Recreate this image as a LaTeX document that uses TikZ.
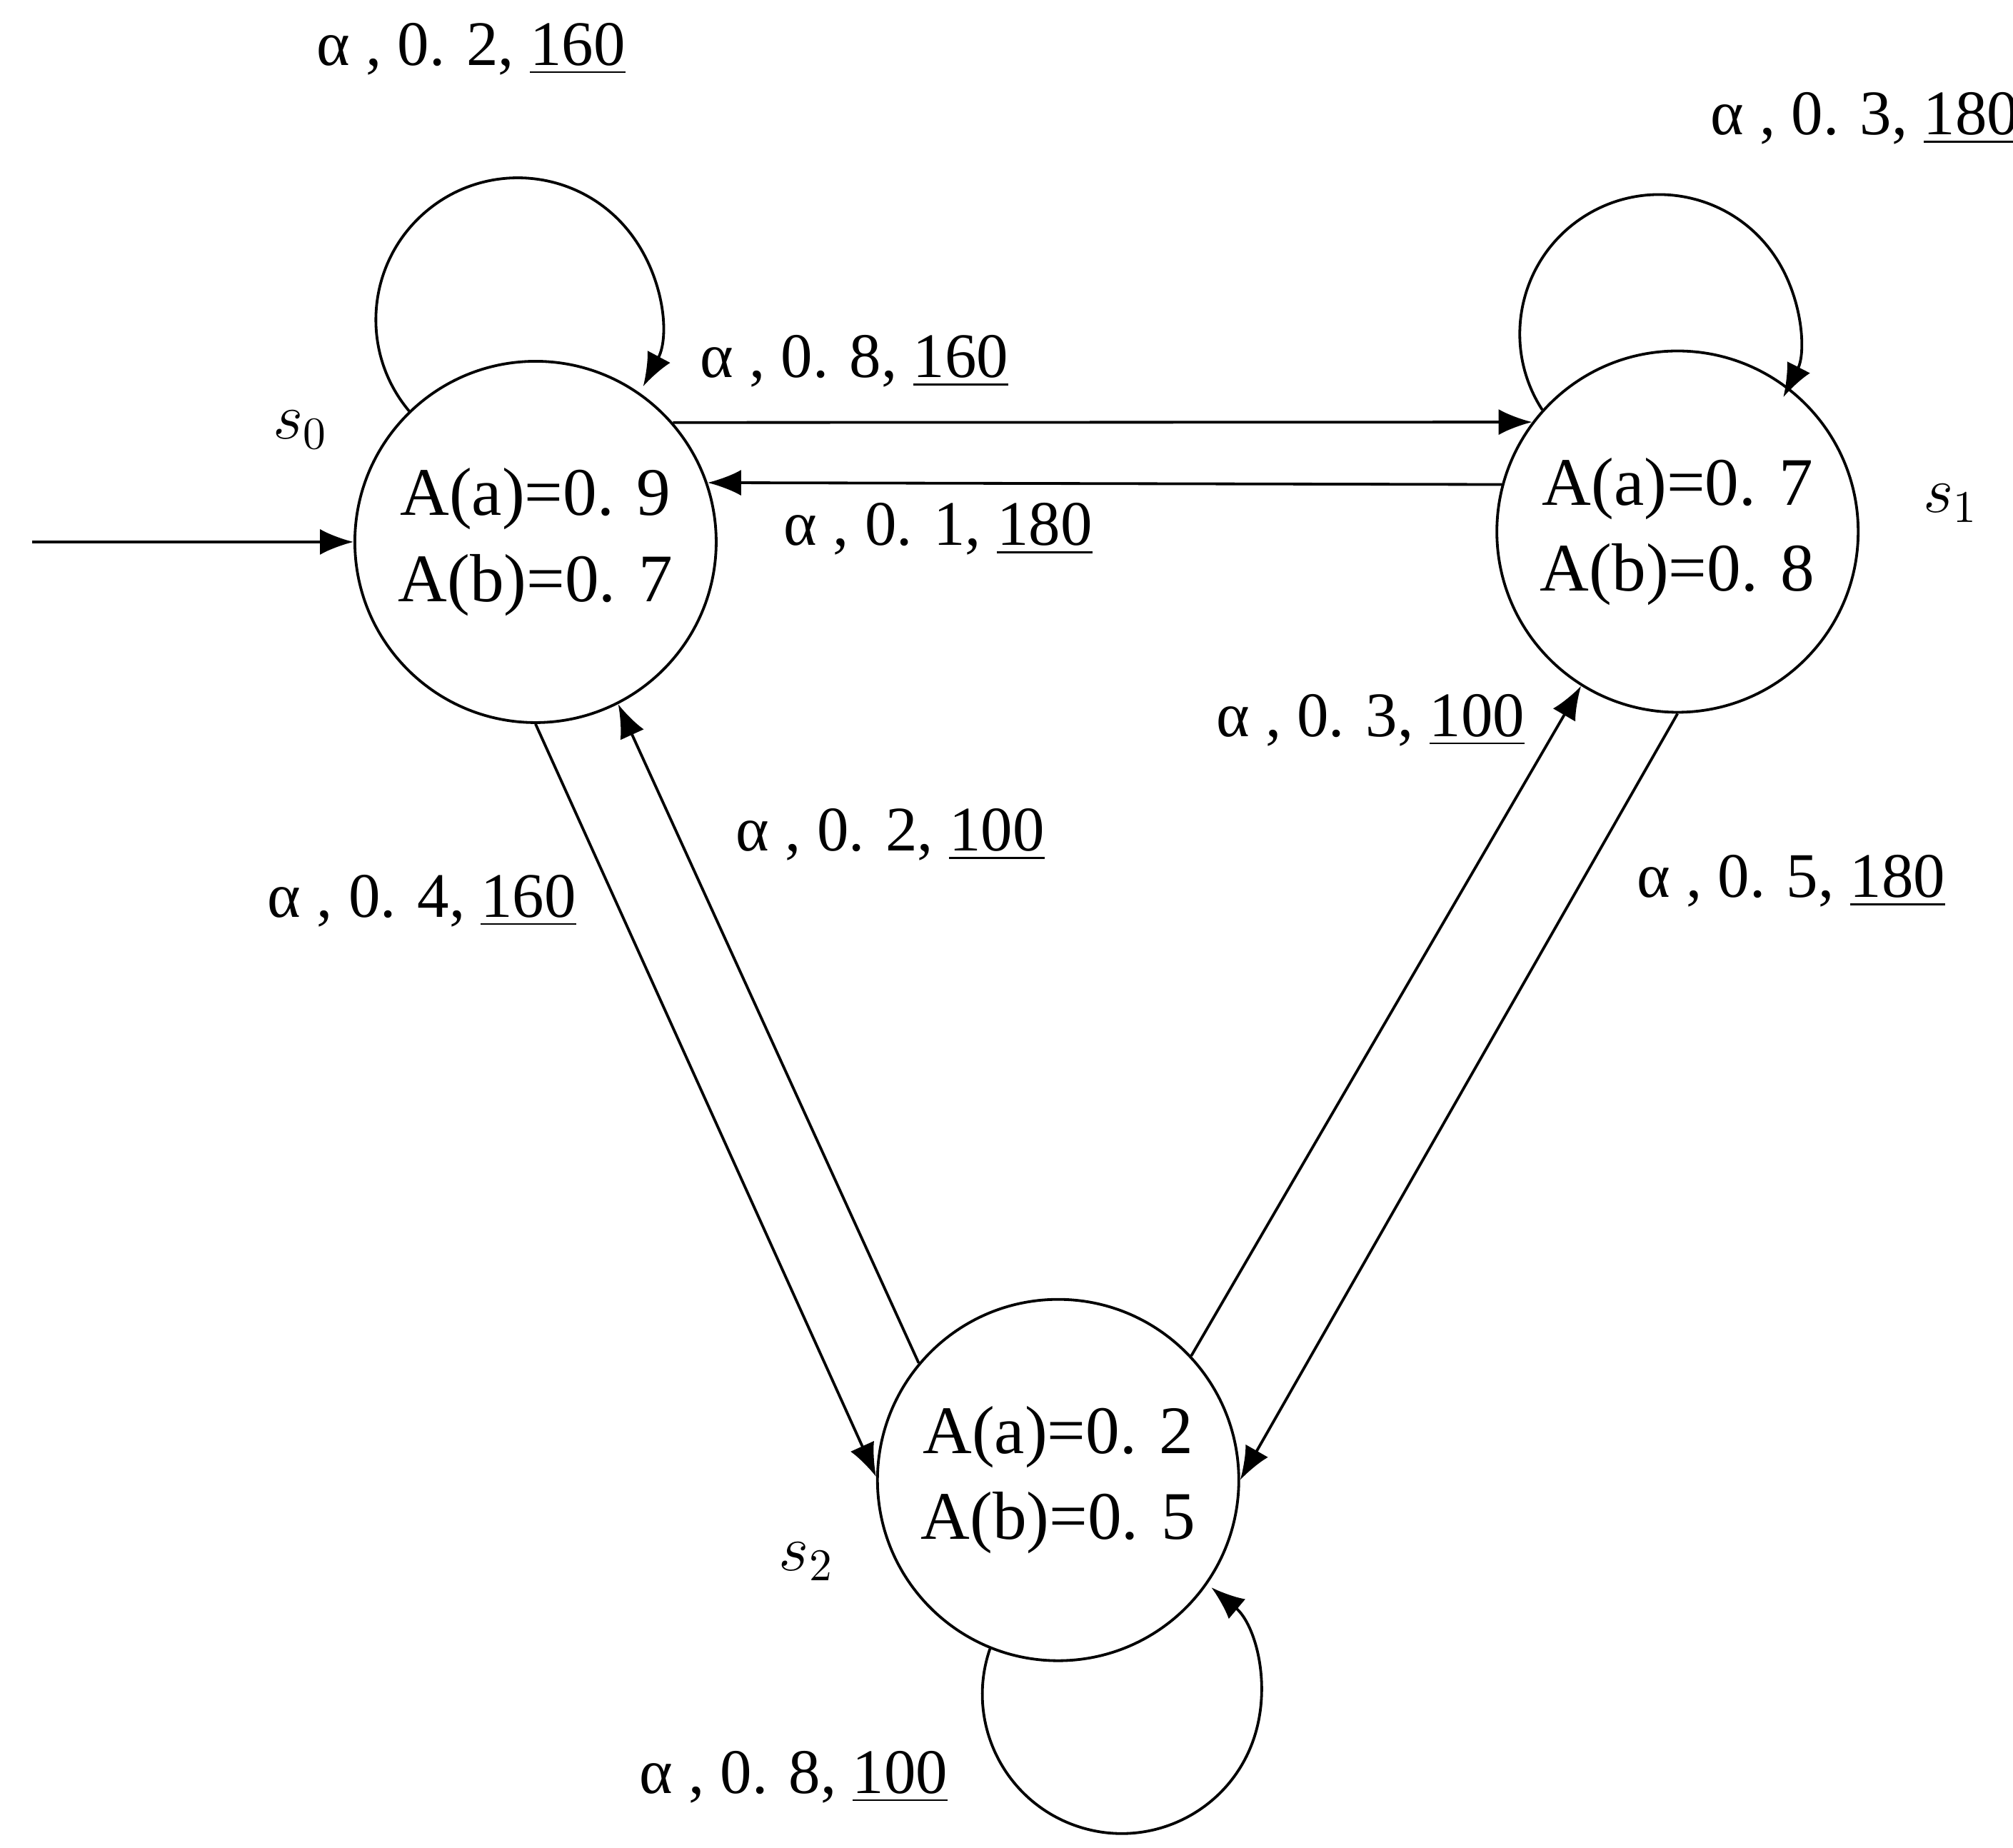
\documentclass[tikz,border=0pt]{standalone}
\usepackage{fontspec}
\setmainfont{Liberation Serif}
\usetikzlibrary{arrows.meta}
\begin{document}
\begin{tikzpicture}[
  st/.style={circle,draw,line width=0.6pt,minimum size=2.8cm,inner sep=0pt,align=center,font=\fontsize{15}{19}\selectfont},
  lb/.style={font=\fontsize{14}{17}\selectfont,inner sep=1pt},
  ed/.style={line width=0.6pt,-{Latex[length=2.6mm,width=2mm]}}]
\useasboundingbox (0,0) rectangle (15.6,14.32);
\node[st] (s0) at (4.15,10.12) {A(a)=0. 9\\A(b)=0. 7};
\node[st] (s1) at (13.00,10.20) {A(a)=0. 7\\A(b)=0. 8};
\node[st] (s2) at (8.20,2.85) {A(a)=0. 2\\A(b)=0. 5};
\coordinate (init) at (0.25,10.12);
\draw[ed] (init) -- (s0.west);
\draw[ed] (s0.41) -- (s1.143);
\draw[ed] (s1.165) -- (s0.19);
\draw[ed] (s0.270) -- (s2.179);
\draw[ed] (s2.140) -- (s0.297);
\draw[ed] (s2.43) -- (s1.238);
\draw[ed] (s1.270) -- (s2.0);
\draw[ed] (s0.134) arc[start angle=220,end angle=-28,radius=1.1];
\draw[ed] (s1.138) arc[start angle=213,end angle=-27,radius=1.08];
\draw[ed] (s2.248) arc[start angle=161,end angle=410,radius=1.08];
\node[lb] (l1) at (3.65,13.94) {α , 0. 2, \underline{160}};
\node[lb] (l2) at (14.45,13.40) {α , 0. 3, \underline{180}};
\node[lb] (l3) at (6.62,11.52) {α , 0. 8, \underline{160}};
\node[lb] (l4) at (7.27,10.22) {α , 0. 1, \underline{180}};
\node[lb] (l5) at (10.62,8.74) {α , 0. 3, \underline{100}};
\node[lb] (l6) at (6.90,7.85) {α , 0. 2, \underline{100}};
\node[lb] (l7) at (3.27,7.34) {α , 0. 4, \underline{160}};
\node[lb] (l8) at (13.88,7.49) {α , 0. 5, \underline{180}};
\node[lb] (l9) at (6.15,0.55) {α , 0. 8, \underline{100}};
\node[lb] (n0) at (2.33,10.99) {$s_0$};
\node[lb] (n1) at (15.12,10.42) {$s_1$};
\node[lb] (n2) at (6.25,2.22) {$s_2$};
\end{tikzpicture}
\end{document}
